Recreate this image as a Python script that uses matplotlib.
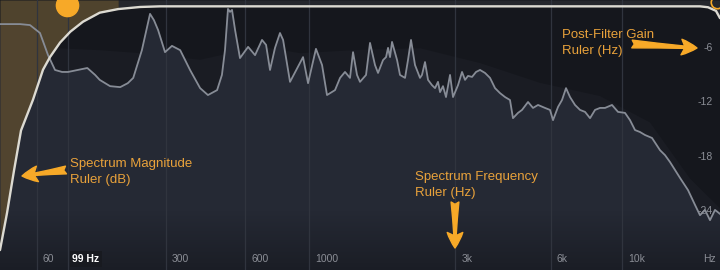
import numpy as np
import matplotlib
matplotlib.use('Agg')
import matplotlib.pyplot as plt
from matplotlib.colors import LinearSegmentedColormap

plt.rcParams['font.family'] = ['Liberation Sans', 'DejaVu Sans']

# spectrum (Hz, dB)
spec_hz = [23.4, 32.5, 42.2, 52.6, 63.8, 73.4, 82.2, 91.5, 99.8, 114,
           129, 142, 150, 169, 189, 205, 217, 237, 257, 267,
           278, 297, 317, 342, 374, 409, 438, 474, 494, 507,
           520, 529, 538, 552, 575, 615, 651, 689, 712, 735,
           765, 796, 816, 862, 955, 993, 1056, 1107, 1150, 1223,
           1271, 1320, 1371, 1403, 1446, 1479, 1548, 1595, 1656, 1694,
           1759, 1799, 1826, 1853, 1881, 1953, 1996, 2072, 2118, 2166,
           2231, 2315, 2349, 2402, 2456, 2529, 2586, 2643, 2683, 2742,
           2803, 2887, 2951, 3061, 3152, 3222, 3293, 3391, 3491, 3594,
           3727, 3865, 4008, 4155, 4309, 4467, 4565, 4734, 4873, 5089,
           5276, 5470, 5753, 5963, 6094, 6317, 6501, 6691, 6886, 7138,
           7399, 7670, 7950, 8240, 8538, 8850, 9304, 9713, 10212, 10584,
           10969, 11368, 11781, 12385, 13113, 13589, 14083, 14594, 15124, 16012,
           16831, 17436, 18068, 18723, 19402, 20105]
spec_db = [-48.2, -48.2, -48.2, -48.5, -50.9, -57.6, -62.1, -62.7, -62.7, -62.1,
           -61.5, -63.6, -65.1, -67.0, -67.3, -66.1, -64.5, -56.1, -45.1, -47.0,
           -50.0, -56.7, -54.8, -56.1, -62.1, -67.6, -69.7, -68.2, -63.6, -56.1,
           -43.6, -44.5, -43.9, -50.0, -58.5, -55.1, -57.6, -53.0, -54.5, -62.1,
           -55.4, -50.9, -53.0, -65.7, -58.2, -66.1, -55.7, -60.6, -69.7, -68.2,
           -64.5, -62.7, -64.5, -56.7, -63.6, -65.7, -63.6, -53.9, -60.6, -63.0,
           -59.1, -58.2, -55.4, -58.2, -53.6, -59.1, -63.6, -64.5, -59.1, -53.0,
           -60.6, -64.5, -63.6, -59.7, -65.1, -66.7, -67.6, -65.7, -68.8, -67.0,
           -70.3, -63.6, -70.3, -66.7, -62.7, -65.1, -63.9, -64.2, -62.7, -62.1,
           -63.0, -64.5, -67.6, -69.1, -70.3, -71.2, -76.7, -75.1, -74.2, -71.8,
           -73.6, -72.7, -73.6, -74.2, -77.3, -73.3, -71.2, -67.6, -70.3, -72.7,
           -74.2, -74.8, -76.7, -74.2, -73.6, -73.6, -72.7, -74.8, -75.1, -77.3,
           -80.3, -80.9, -81.8, -82.7, -86.4, -87.9, -90.0, -92.4, -94.8, -98.5,
           -103.0, -106.1, -104.5, -107.6, -104.5, -105.7]

# faint peak-hold envelope behind the spectrum
env_hz = [23.4, 75.8, 150, 233, 409, 678, 933, 1479, 2315, 3594, 5549, 8538, 12209, 16241, 20105]
env_db = [-53.0, -55.4, -56.1, -57.0, -59.0, -55.0, -57.0, -56.0, -55.5, -60.0,
          -66.0, -70.0, -78.0, -95.0, -104.0]

# post-filter gain curve (high-pass at 99 Hz)
filt_hz = [23.4, 29.7, 36.3, 43.2, 55.9, 67.3, 75.8, 88.8, 103, 122, 150, 185, 233, 283,
           17436, 18459, 19541, 20105]
filt_db = [-28.4, -24.3, -19.6, -15.2, -11.8, -8.5, -7.1, -5.5, -4.3, -3.2, -2.2, -1.8,
           -1.57, -1.5, -1.5, -1.6, -2.0, -2.8]
node_hz = 99
node_db = -1.35

grid_hz = [60, 100, 300, 600, 1000, 3000, 6000, 10000]
grid_labels = ['60', '99 Hz', '300', '600', '1000', '3k', '6k', '10k']
mag_ticks = [-60, -80, -100]
gain_ticks = [-6, -12, -18, -24]

ORANGE = '#f7a928'
TXT_OR = '#e9a23b'
TICK = '#8b8e96'


def fwd(f):
    return np.log10(np.asarray(f) + 100)


def inv(v):
    return 10 ** np.asarray(v) - 100


fig = plt.figure(figsize=(7.2, 2.7), dpi=100)
fig.patch.set_facecolor('#15171d')
ax = fig.add_axes([0, 0, 1, 1])
ax.set_facecolor('#15171d')
ax.set_xscale('function', functions=(fwd, inv))
gax = ax.twinx()

XLIM = (23.4, 20105)
MAG_LIM = (-122.7, -40.9)
GAIN_LIM = (-30.6, -0.8)

gt = gax.transData
hz = np.array(filt_hz)

# band above the filter line, tan area left of the high-pass slope
ax.fill_between(filt_hz, filt_db, GAIN_LIM[1], where=hz >= 185, color='#25272d',
                transform=gt, zorder=1, lw=0)
ax.fill_between(env_hz, env_db, MAG_LIM[0], color='#1a1c23', zorder=1.5, lw=0)
ax.fill_between(spec_hz, spec_db, MAG_LIM[0], color='#252934', zorder=2, lw=0)
ax.fill_between(filt_hz, filt_db, GAIN_LIM[1], where=hz <= 185, color='#56482f',
                alpha=0.9, transform=gt, zorder=2.5, lw=0)

# darker strip at the bottom
fade = LinearSegmentedColormap.from_list('fade', [(0, 0, 0, 0.28), (0, 0, 0, 0)])
ax.imshow(np.linspace(0, 1, 64).reshape(-1, 1), cmap=fade, origin='lower',
          extent=[0, 1, 0, 0.22], transform=ax.transAxes, aspect='auto', zorder=2.7)

for f in grid_hz:
    ax.axvline(f, color='#30343e', lw=0.9, zorder=3)

ax.plot(spec_hz, spec_db, color='#878c96', lw=1.3, zorder=4, solid_joinstyle='round')
ax.plot(filt_hz, filt_db, color='#dcdad2', lw=1.7, transform=gt, zorder=5,
        solid_capstyle='round')
ax.plot([node_hz], [node_db], 'o', ms=16, color=ORANGE, mec=ORANGE, transform=gt, zorder=6)
ax.plot([19700], [-1.0], 'o', ms=9, mfc='none', mec=ORANGE, mew=1.2, transform=gt, zorder=6)

ax.set_xlim(*XLIM)
ax.set_ylim(*MAG_LIM)
gax.set_ylim(*GAIN_LIM)

# rulers
ax.set_xticks([])
ax.set_yticks(mag_ticks, [str(v) for v in mag_ticks])
ax.tick_params(axis='y', direction='in', length=0, pad=-15.5, labelsize=7.5, labelcolor='#85837c')
gax.set_yticks(gain_ticks, [str(v) for v in gain_ticks])
gax.tick_params(axis='y', direction='in', length=0, pad=-5, labelsize=7.5, labelcolor=TICK)
for t in gax.get_yticklabels():
    t.set_horizontalalignment('right')
for a in (ax, gax):
    for s in a.spines.values():
        s.set_visible(False)

for f, lab in zip(grid_hz, grid_labels):
    if lab == '99 Hz':
        ax.annotate(lab, (f, 0), xycoords=('data', 'axes fraction'), xytext=(4, 11),
                    textcoords='offset pixels', va='center', ha='left', fontsize=7.5,
                    color='white', fontweight='bold', zorder=7,
                    bbox=dict(boxstyle='square,pad=0.25', fc='#181a20', ec='none'))
    else:
        ax.annotate(lab, (f, 0), xycoords=('data', 'axes fraction'), xytext=(6, 11),
                    textcoords='offset pixels', va='center', ha='left', fontsize=7.5,
                    color=TICK, zorder=7)
ax.annotate('Hz', (1, 0), xycoords='axes fraction', xytext=(-17, 11),
            textcoords='offset pixels', va='center', ha='left', fontsize=7.5, color=TICK)

# callouts
notes = [("Spectrum Magnitude\nRuler (dB)", (70, 98)),
         ("Spectrum Frequency\nRuler (Hz)", (415, 85)),
         ("Post-Filter Gain\nRuler (Hz)", (562, 227))]
for txt, pos in notes:
    ax.annotate(txt, pos, xycoords='figure pixels', ha='left', va='center',
                fontsize=9.5, color=TXT_OR, linespacing=1.45, zorder=8)

arrows = [((22, 94), (66, 100)), ((455, 22), (455, 68)), ((697, 222), (632, 226))]
for head, tail in arrows:
    ax.annotate('', xy=head, xytext=tail, xycoords='figure pixels',
                arrowprops=dict(arrowstyle='fancy,head_length=0.7,head_width=0.7,tail_width=0.35',
                                color=ORANGE, mutation_scale=16, shrinkA=0, shrinkB=0),
                zorder=8)

fig.savefig('out.png', dpi=100, facecolor=fig.get_facecolor())
